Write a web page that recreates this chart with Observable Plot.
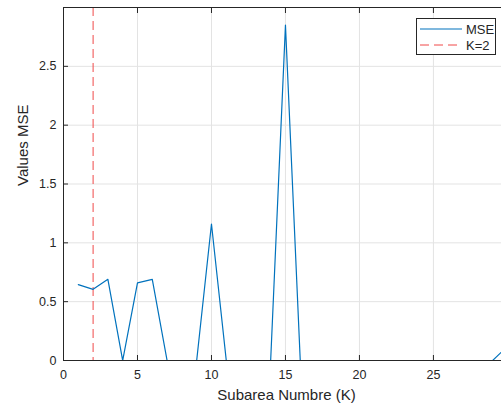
<!DOCTYPE html>
<html>
<head>
<meta charset="utf-8">
<script src="https://cdn.jsdelivr.net/npm/d3@7"></script>
<script src="https://cdn.jsdelivr.net/npm/@observablehq/plot@0.6"></script>
<style>
  html, body { margin: 0; padding: 0; background: #fff; }
  #wrap { position: relative; width: 501px; height: 407px; }
  #legend { position: absolute; left: 416px; top: 18px; width: 80px; height: 37px;
    border: 1px solid #262626; background: #fff; font-family: "Liberation Sans", Arial, sans-serif;
    font-size: 13px; color: #262626; box-sizing: border-box; }
  #legend .row { position: absolute; left: 3px; height: 14px; display: flex; align-items: center; }
  #legend span { margin-left: 4px; }
</style>
</head>
<body>
<div id="wrap"></div>
<script>
const subarea = [1,2,3,4,5,6,7,8,9,10,11,12,13,14,15,16,17,18,19,20,21,22,23,24,25,26,27,28,29,30];
const mse = [0.645,0.605,0.69,0,0.66,0.69,0,0,0,1.16,0,0,0,0,2.85,0,0,0,0,0,0,0,0,0,0,0,0,0,0,0.12];
const kOpt = [2];
const xTicks = [0,5,10,15,20,25];
const yTicks = [0,0.5,1,1.5,2,2.5];
const xDomain = [0, 29.6];
const yDomain = [0, 3];
const xLabel = "Subarea Numbre (K)";
const yLabel = "Values MSE";
const seriesNames = ["MSE", "K=2"];

const data = subarea.map((k, i) => ({k, v: mse[i]}));
const font = '"Liberation Sans", Arial, sans-serif';
const axisColor = "#262626";

const chart = Plot.plot({
  width: 501,
  height: 407,
  marginLeft: 63,
  marginRight: 0,
  marginTop: 7,
  marginBottom: 47,
  style: {fontFamily: font, fontSize: "12.5px", color: axisColor, background: "#fff"},
  x: {domain: xDomain},
  y: {domain: yDomain},
  marks: [
    Plot.ruleX(xTicks.slice(1), {stroke: "#e3e3e3", strokeWidth: 1}),
    Plot.ruleY(yTicks.slice(1), {stroke: "#e3e3e3", strokeWidth: 1}),
    Plot.ruleX(kOpt, {stroke: "#f04848", strokeWidth: 1, strokeDasharray: "9,5"}),
    Plot.line(data, {x: "k", y: "v", stroke: "#0072BD", strokeWidth: 1.2, clip: true}),
    Plot.ruleY([yDomain[1]], {stroke: axisColor, strokeWidth: 1}),
    Plot.ruleY([yDomain[0]], {stroke: axisColor, strokeWidth: 1}),
    Plot.ruleX([xDomain[0]], {stroke: axisColor, strokeWidth: 1}),
    Plot.axisX({ticks: xTicks, tickSize: -5, text: null, label: null, stroke: axisColor}),
    Plot.axisX({anchor: "top", ticks: xTicks, tickSize: -5, text: null, label: null, stroke: axisColor}),
    Plot.axisX({ticks: xTicks, tickSize: 0, tickPadding: 10, label: null, fill: axisColor, fontSize: 12.5}),
    Plot.axisY({ticks: yTicks, tickSize: -5, text: null, label: null, stroke: axisColor}),
    Plot.axisY({ticks: yTicks, tickSize: 0, tickPadding: 7, label: null, fill: axisColor, fontSize: 12.5, tickFormat: d => String(d)}),
    Plot.text([xLabel], {frameAnchor: "bottom", dx: 4, dy: 39, fill: axisColor, fontSize: 15, text: d => d}),
    Plot.text([yLabel], {frameAnchor: "left", dx: -40, dy: 2, rotate: -90, fill: axisColor, fontSize: 15, text: d => d})
  ]
});

const wrap = document.getElementById("wrap");
wrap.appendChild(chart);
const legend = document.createElement("div");
legend.id = "legend";
legend.innerHTML =
  `<div class="row" style="top:3px"><svg width="42" height="10"><line x1="0" x2="42" y1="5" y2="5" stroke="#0072BD" stroke-width="1.2"/></svg><span>${seriesNames[0]}</span></div>` +
  `<div class="row" style="top:19px"><svg width="42" height="10"><line x1="0" x2="42" y1="5" y2="5" stroke="#f04848" stroke-width="1" stroke-dasharray="9,5"/></svg><span>${seriesNames[1]}</span></div>`;
wrap.appendChild(legend);
</script>
</body>
</html>
